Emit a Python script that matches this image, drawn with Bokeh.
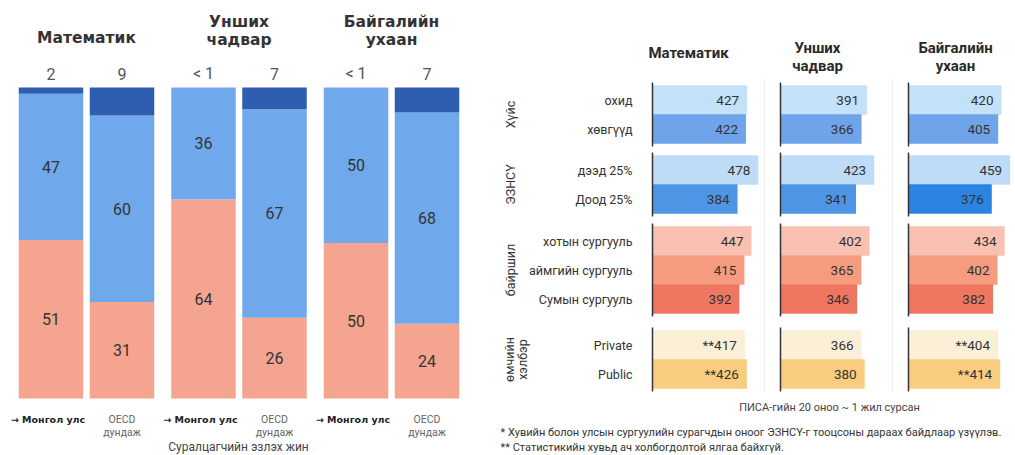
import math
from bokeh.plotting import figure
from bokeh.models import Range1d, ColumnDataSource
from bokeh.core.properties import value
from bokeh.embed import file_html
from bokeh.resources import INLINE

# ---------------- data ----------------
subjects = [["Математик"], ["Унших", "чадвар"], ["Байгалийн", "ухаан"]]

# left panel: share of students (%) - low / mid / top performers
mn_low = [51, 64, 50]
mn_mid = [47, 36, 50]
mn_top_label = ["2", "< 1", "< 1"]
oecd_low = [31, 26, 24]
oecd_mid = [60, 67, 68]
oecd_top_label = ["9", "7", "7"]

# right panel: PISA scores
groups = [["Хүйс"], ["ЭЗНСҮ"], ["байршил"], ["өмчийн", "хэлбэр"]]
group_sizes = [2, 2, 3, 2]
row_labels = ["охид", "хөвгүүд", "дээд 25%", "Доод 25%", "хотын сургууль",
              "аймгийн сургууль", "Сумын сургууль", "Private", "Public"]
math_scores = [427, 422, 478, 384, 447, 415, 392, 417, 426]
reading_scores = [391, 366, 423, 341, 402, 365, 346, 366, 380]
science_scores = [420, 405, 459, 376, 434, 402, 382, 404, 414]
math_ns = [False] * 7 + [True, True]
reading_ns = [False] * 9
science_ns = [False] * 7 + [True, True]

# ---------------- styles / layout ----------------
PINK, MID, DARK = "#F5A490", "#70A9EB", "#2F5DAF"
row_colors = ["#C4E1FA", "#6FA3EA", "#BEDCF8", "#4F95E6", "#F8C1B1",
              "#F59B7F", "#EF7762", "#FBEFD7", "#F8CD7F"]
col3_colors = list(row_colors)
col3_colors[3] = "#2B84E2"

W, H = 1015, 455
X0, Y0 = 0, 0  # reference coordinate of the frame's top-left

p = figure(width=W, height=H, x_range=Range1d(X0, X0 + W), y_range=Range1d(Y0 + H, Y0),
           output_backend="svg", toolbar_location=None,
           x_axis_location=None, y_axis_location=None, min_border=0)
p.grid.visible = False
p.outline_line_color = None
p.background_fill_color = "white"
p.border_fill_color = "white"

# percent range for the stacked bars
y0_ref, y100_ref = 398, 87
s = (y0_ref - y100_ref) / 100.0
bottom_px = (Y0 + H) - y0_ref
p.extra_y_ranges["pct"] = Range1d(-bottom_px / s, (H - bottom_px) / s)

# score ranges for the three columns
k = 0.2215
zeros = [652, 780, 908]
for i, z in enumerate(zeros):
    p.extra_x_ranges[f"c{i}"] = Range1d(-(z - X0) / k, (X0 + W - z) / k)

BODY = value("Roboto")
HEAVY = value("DejaVu Sans")

# ---------------- left panel ----------------
group_x = [50.5 + 152.5 * i for i in range(3)]
bar_w = 64.5
xs, bots, tops, cols = [], [], [], []
lab_x, lab_y, lab_t = [], [], []
for i in range(3):
    for j, (low, mid) in enumerate([(mn_low[i], mn_mid[i]), (oecd_low[i], oecd_mid[i])]):
        xc = group_x[i] + 71 * j
        segs = [(0, low, PINK), (low, low + mid, MID), (low + mid, 100, DARK)]
        for b, t, c in segs:
            if t > b:
                xs.append(xc); bots.append(b); tops.append(t); cols.append(c)
        lab_x += [xc, xc]
        lab_y += [low / 2, low + mid / 2]
        lab_t += [str(low), str(mid)]

src_l = ColumnDataSource(dict(x=xs, b=bots, t=tops, c=cols))
p.vbar(x="x", width=bar_w, bottom="b", top="t", fill_color="c", line_color=None,
       source=src_l, y_range_name="pct")
p.text(x=lab_x, y=lab_y, text=lab_t, y_range_name="pct", text_font=BODY,
       text_font_size="16px", text_color="#333333", text_align="center",
       text_baseline="middle")

top_x, top_t = [], []
for i in range(3):
    top_x += [group_x[i], group_x[i] + 71]
    top_t += [mn_top_label[i], oecd_top_label[i]]
p.text(x=top_x, y=[73] * 6, text=top_t, text_font=BODY, text_font_size="16px",
       text_color="#555555", text_align="center", text_baseline="middle")

# left titles
for i, lines in enumerate(subjects):
    cx = group_x[i] + 35.5
    ys = [37] if len(lines) == 1 else [21, 39]
    p.text(x=[cx] * len(lines), y=ys, text=lines, text_font=HEAVY,
           text_font_style="bold", text_font_size="15.5px", text_color="#333333",
           text_align="center", text_baseline="middle")

# left bottom labels
for i in range(3):
    p.text(x=[group_x[i] - 3], y=[419], text=["→ Монгол улс"], text_font=HEAVY,
           text_font_style="bold", text_font_size="9.5px", text_color="#222222",
           text_align="center", text_baseline="middle")
    p.text(x=[group_x[i] + 71] * 2, y=[419, 432], text=["OECD", "дундаж"],
           text_font=BODY, text_font_size="10.5px", text_color="#666666",
           text_align="center", text_baseline="middle")
p.text(x=[238], y=[446], text=["Суралцагчийн эзлэх жин"], text_font=BODY,
       text_font_size="12px", text_color="#444444", text_align="center",
       text_baseline="middle")

# ---------------- right panel ----------------
pitch = 29
group_starts = [85, 155, 226, 330]
row_y = []
for gs, n in zip(group_starts, group_sizes):
    row_y += [gs + pitch * (r + 0.5) for r in range(n)]

# faint column separators
p.segment(x0=[764, 892], x1=[764, 892], y0=[78, 78], y1=[392, 392],
          line_color="#eeeeee", line_width=1)

scores = [math_scores, reading_scores, science_scores]
ns = [math_ns, reading_ns, science_ns]
colsets = [row_colors, row_colors, col3_colors]
for c in range(3):
    labs = [("**" if f else "") + str(v) for v, f in zip(scores[c], ns[c])]
    src = ColumnDataSource(dict(y=row_y, v=scores[c], col=colsets[c], lab=labs))
    p.hbar(y="y", left=0, right="v", height=pitch + 0.5, fill_color="col",
           line_color=None, source=src, x_range_name=f"c{c}")
    p.text(x="v", y="y", text="lab", source=src, x_range_name=f"c{c}",
           x_offset=-8, text_font=BODY, text_font_size="13.5px",
           text_color="#333333", text_align="right", text_baseline="middle")
    # group axis lines
    gy0 = [gs - 3 for gs in group_starts]
    gy1 = [gs + pitch * n + 3 for gs, n in zip(group_starts, group_sizes)]
    p.segment(x0=[0] * 4, x1=[0] * 4, y0=gy0, y1=gy1, x_range_name=f"c{c}",
              line_color="#333333", line_width=1.5)

# row labels
p.text(x=[632] * len(row_labels), y=row_y, text=row_labels, text_font=BODY,
       text_font_size="12.5px", text_color="#333333", text_align="right",
       text_baseline="middle")

# group labels (rotated)
for gs, n, lines in zip(group_starts, group_sizes, groups):
    cy = gs + pitch * n / 2
    gx = [510] if len(lines) == 1 else [509, 522]
    p.text(x=gx, y=[cy] * len(lines), text=lines, angle=math.pi / 2,
           text_font=BODY, text_font_size="12.5px", text_color="#333333",
           text_align="center", text_baseline="middle")

# right titles
title_x = [688, 817, 955]
for i, lines in enumerate(subjects):
    ys = [52] if len(lines) == 1 else [47, 65]
    p.text(x=[title_x[i]] * len(lines), y=ys, text=lines, text_font=BODY,
           text_font_style="bold", text_font_size="15px", text_color="#2a2a2a",
           text_align="center", text_baseline="middle")

# footer
p.text(x=[829], y=[407], text=["ПИСА-гийн 20 оноо ~ 1 жил сурсан"], text_font=BODY,
       text_font_size="11px", text_color="#444444", text_align="center",
       text_baseline="middle")
p.text(x=[500, 500], y=[432, 447],
       text=["* Хувийн болон улсын сургуулийн сурагчдын оноог ЭЗНСҮ-г тооцсоны дараах байдлаар үзүүлэв.",
             "**  Статистикийн хувьд ач холбогдолтой ялгаа байхгүй."],
       text_font=BODY, text_font_size="11px", text_color="#333333",
       text_align="left", text_baseline="middle")

open("out.html", "w").write(file_html(p, INLINE))
